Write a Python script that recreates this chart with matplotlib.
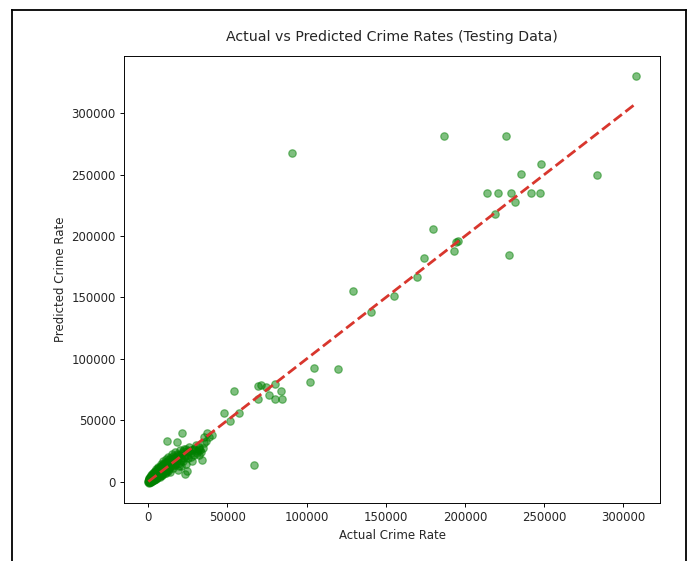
import matplotlib
matplotlib.use("Agg")
import matplotlib.pyplot as plt
from matplotlib.lines import Line2D

# Test-set crime rates: observed values and model predictions
actual_crime = [
    100, 300, 400, 600, 800, 900, 1000, 1200, 1300, 1500, 1600, 1800, 2000, 2100,
    2300, 2500, 2600, 2800, 3000, 3100, 3300, 3500, 3600, 3800, 4000, 4100, 4300,
    4500, 4700, 4900, 5000, 5200, 5400, 5600, 5800, 6000, 6200, 6400, 6600, 6800,
    7000, 7200, 7500, 7700, 8000, 8200, 8500, 8700, 9000, 9200, 9500, 9700, 10000,
    10300, 10600, 10900, 11200, 11500, 11800, 12100, 12500, 12800, 13200, 13500,
    13900, 14300, 14700, 15000, 15400, 15800, 16200, 16600, 17000, 17500, 18000,
    18500, 19000, 19500, 20000, 20500, 21000, 21600, 22200, 22800, 23400, 24000,
    24700, 25400, 26000, 26800, 27500, 28300, 29000, 30000, 31000, 32000, 33500,
    34500, 700, 1900, 3400, 5500, 7300, 2700, 4600, 6300, 8900, 11000,
    150, 350, 550, 750, 950, 1150, 1350, 1550, 1750, 1950, 2150, 2350, 2550, 2750,
    2950, 3150, 3350, 3550, 3750, 3950, 4150, 4350, 4550, 4750, 4950, 5150, 5350,
    5550, 5750, 5950, 6150, 6350, 6550, 6750, 6950, 7150, 7350, 7600, 7850, 8100,
    8400, 8650, 8950, 9250, 9550, 9850, 10150, 10450, 10750, 11050, 11350, 11650,
    11950, 12300, 12650, 13000, 13400, 13800, 14200, 14600, 15100, 15600, 16100,
    16700, 17300, 17900, 18600, 19300, 20100, 20900, 21800, 22700, 23600, 24600,
    25600, 26700, 27800, 29200, 30500, 32300, 35000, 36500, 38500,
    21300, 11800, 18100, 37100, 40300, 35000, 32900, 31800, 34000, 24500, 23400,
    47600, 51800, 57100, 53900,
    66600,
    69100, 71400, 74400, 80300, 83500, 76100, 79900, 84500, 69100,
    104500, 119700, 102000,
    129000, 140400, 155100, 169700, 174300, 179800,
    91000, 187000, 225700,
    193000, 195600, 194100, 227800, 218800, 231400,
    214100, 220500, 228900, 241500, 247200,
    235600, 248000, 283000, 307700,
]
predicted_crime = [
    300, -800, 1500, 200, 2500, -300, 1200, 3800, 500, 2000, -500, 4500, 1300, 2800,
    6000, 900, 3500, 1800, 5200, 2400, 4100, 7500, 1600, 3000, 5800, 4200, 2200,
    8800, 6500, 3600, 5000, 10500, 7200, 2800, 6100, 9000, 4400, 12000, 7700, 5500,
    8500, 10800, 3900, 6800, 14000, 9400, 7000, 11500, 5600, 8200, 16500, 12700, 9800,
    6800, 13800, 11000, 18500, 8500, 14800, 12200, 20500, 10000, 16000, 13000,
    7500, 18000, 22500, 14500, 11000, 19500, 16500, 24000, 13500, 20500, 17500,
    9500, 22000, 15000, 25500, 19500, 12500, 23000, 17000, 27000, 21000, 14500,
    25000, 19000, 28500, 23500, 16500, 27000, 21500, 30000, 25000, 28000, 24500,
    27500, 3200, 5200, 1000, 8500, 4800, 7000, 2500, 11000, 13500, 15500,
    -200, 900, -600, 1800, 600, -100, 2600, 1100, 300, 3300, 1900, 700, 4200, 2600,
    1200, 3900, 5600, 2900, 1800, 4700, 6700, 3400, 5300, 2600, 7800, 4100, 6300,
    8900, 3800, 5400, 7400, 9900, 4900, 6600, 11300, 8100, 5800, 9600, 12600, 7300,
    10600, 5200, 9100, 13900, 8100, 11200, 15300, 9200, 12600, 7400, 16200, 10600,
    13400, 17400, 8800, 14300, 11800, 19200, 15600, 12400, 17600, 21300, 13400,
    18700, 15600, 22800, 19200, 12600, 21600, 16800, 25300, 19300, 26300, 21800,
    24600, 20500, 25800, 26700, 23500, 26300, 31500, 33000, 36500,
    39800, 33400, 32600, 39300, 38000, 36600, 25900, 21800, 17800, 8300, 6500,
    56000, 49500, 56000, 73500,
    13600,
    77600, 78900, 77000, 79700, 73800, 70300, 67100, 67100, 67100,
    92400, 91500, 81400,
    155100, 138200, 151100, 166400, 182000, 206000,
    267400, 281200, 281200,
    188000, 196100, 195500, 184200, 217600, 227800,
    234900, 234900, 234900, 234900, 235400,
    250200, 258300, 249400, 330000,
]

S = 0.85  # overall scale of the rendered chart
plt.rcParams.update({
    "font.family": "DejaVu Sans",
    "font.size": 10 * S,
    "axes.linewidth": 0.8 * S,
    "xtick.major.width": 0.8 * S,
    "ytick.major.width": 0.8 * S,
    "xtick.major.size": 3.5 * S,
    "ytick.major.size": 3.5 * S,
    "xtick.major.pad": 3.5 * S,
    "ytick.major.pad": 3.5 * S,
    "text.color": "#262626",
    "axes.labelcolor": "#262626",
    "xtick.labelcolor": "#262626",
    "ytick.labelcolor": "#262626",
})

fig = plt.figure(figsize=(6.89, 5.61), dpi=100)
ax = fig.add_axes([0.180, 0.1034, 0.778, 0.7968])

ax.scatter(actual_crime, predicted_crime, color="green", alpha=0.5,
           s=40 * S * S, linewidths=1.0 * S)
lo, hi = min(actual_crime), max(actual_crime)
ax.plot([lo, hi], [lo, hi], "--", color="#d8362d", lw=2.0)

ax.set_title("Actual vs Predicted Crime Rates (Testing Data)", fontsize=12 * S,
             pad=11)
ax.set_xlabel("Actual Crime Rate", labelpad=4 * S)
ax.set_ylabel("Predicted Crime Rate", labelpad=4 * S)

# page frame around the figure
frame_kw = dict(color="black", lw=1.3, transform=fig.transFigure)
fig.add_artist(Line2D([12 / 689, 12 / 689], [0, 1 - 10 / 561], **frame_kw))
fig.add_artist(Line2D([686 / 689, 686 / 689], [0, 1 - 10 / 561], **frame_kw))
fig.add_artist(Line2D([12 / 689, 686 / 689], [1 - 10 / 561, 1 - 10 / 561], **frame_kw))

fig.savefig("out.png", dpi=100)
